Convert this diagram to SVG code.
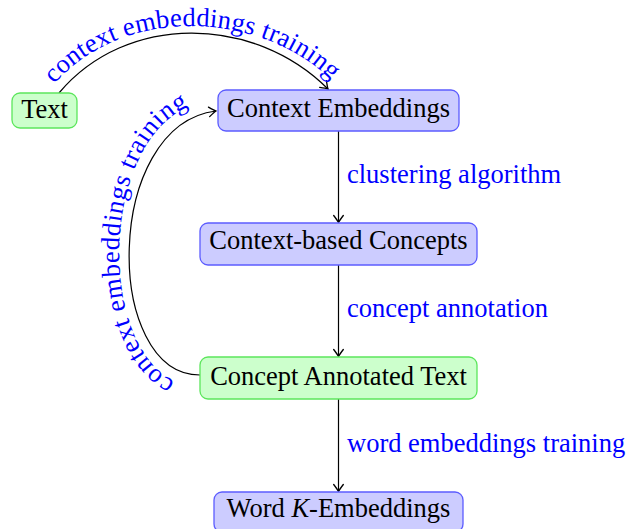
<svg xmlns="http://www.w3.org/2000/svg" width="639" height="529" viewBox="0 0 639 529">
<style>
.blue rect{fill:#ccccff;stroke:#5c5cff;stroke-width:1.3}
.green rect{fill:#ccffcc;stroke:#5ce65c;stroke-width:1.3}
.lbl{font-family:"Liberation Serif","Times New Roman",serif;font-size:26.5px;fill:#000;text-anchor:middle}
.edge{font-family:"Liberation Serif","Times New Roman",serif;font-size:26.5px;fill:#0000ff}
.conn path,.conn line{fill:none;stroke:#000;stroke-width:1.2}
</style>
<defs>
<marker id="arr" markerUnits="userSpaceOnUse" markerWidth="12" markerHeight="12" viewBox="-8 -6 10 12" refX="0" refY="0" orient="auto">
<path d="M -7,-4.8 Q -2,-1 0,0 Q -2,1 -7,4.8" fill="none" stroke="#000" stroke-width="1.3" stroke-linecap="round"/>
</marker>
<path id="tp1" d="M 52,87 C 119,5 261,8 334,83"/>
<path id="tp2" d="M 200,386 C 90,388 90,110 214,100"/>
</defs>
<g id="connectors" class="conn">
<path d="M 59,93 C 126.5,12.6 254,15 328,89" marker-end="url(#arr)"/>
<path d="M 200,375 C 103,375 103,125 216,111" marker-end="url(#arr)"/>
<line x1="338.5" y1="131" x2="338.5" y2="222.5" marker-end="url(#arr)"/>
<line x1="338.5" y1="265" x2="338.5" y2="356.5" marker-end="url(#arr)"/>
<line x1="338.5" y1="399" x2="338.5" y2="491.5" marker-end="url(#arr)"/>
</g>
<g id="edge-labels">
<text class="edge" letter-spacing="0.2"><textPath href="#tp1" startOffset="50%" text-anchor="middle">context embeddings training</textPath></text>
<text class="edge" letter-spacing="0.6"><textPath href="#tp2" startOffset="50%" text-anchor="middle">context embeddings training</textPath></text>
<text class="edge" x="347" y="183">clustering algorithm</text>
<text class="edge" x="347" y="317">concept annotation</text>
<text class="edge" x="347" y="452">word embeddings training</text>
</g>
<g id="node-text" class="green">
<rect x="12" y="93" width="65" height="35" rx="8"/>
<text class="lbl" x="44.5" y="118">Text</text>
</g>
<g id="node-context-embeddings" class="blue">
<rect x="218" y="90" width="241" height="41" rx="8"/>
<text class="lbl" x="338.5" y="117">Context Embeddings</text>
</g>
<g id="node-context-based-concepts" class="blue">
<rect x="200" y="223" width="277" height="42" rx="8"/>
<text class="lbl" x="338.5" y="249">Context-based Concepts</text>
</g>
<g id="node-concept-annotated-text" class="green">
<rect x="200" y="357" width="277" height="42" rx="8"/>
<text class="lbl" x="338.5" y="385">Concept Annotated Text</text>
</g>
<g id="node-word-k-embeddings" class="blue">
<rect x="214" y="492" width="249" height="40" rx="8"/>
<text class="lbl" x="338.5" y="517">Word <tspan font-style="italic">K</tspan>-Embeddings</text>
</g>
</svg>
